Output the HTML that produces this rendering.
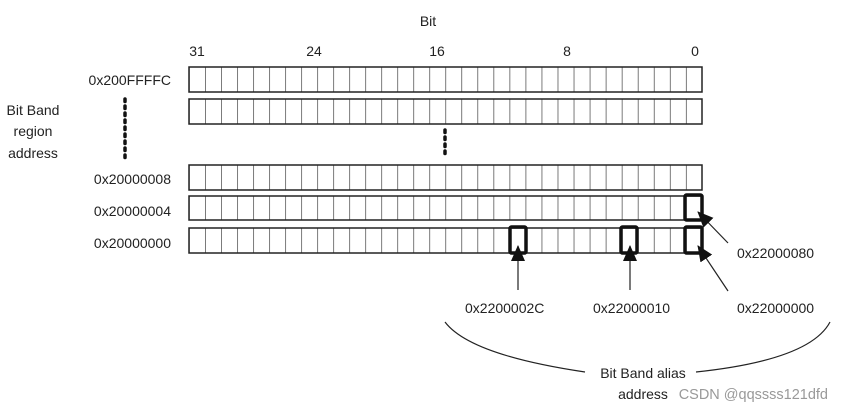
<!DOCTYPE html>
<html><head><meta charset="utf-8"><style>
html,body{margin:0;padding:0;background:#fff;}
svg{display:block;font-family:"Liberation Sans",sans-serif;}
text{font-size:14px;fill:#222;}
</style></head><body>
<svg width="841" height="410" viewBox="0 0 841 410">
<defs>
<pattern id="cells" x="189" y="0" width="16.03" height="410" patternUnits="userSpaceOnUse">
<line x1="0" y1="0" x2="0" y2="410" stroke="#222" stroke-width="1.2"/>
</pattern>
<marker id="ah" markerWidth="16" markerHeight="14" refX="15" refY="7" orient="auto" markerUnits="userSpaceOnUse" viewBox="0 0 16 14">
<path d="M0,0 L16,7 L0,14 z" fill="#111"/>
</marker>
</defs>
<text x="428" y="26" text-anchor="middle">Bit</text>
<text x="197" y="56" text-anchor="middle">31</text>
<text x="314" y="56" text-anchor="middle">24</text>
<text x="437" y="56" text-anchor="middle">16</text>
<text x="567" y="56" text-anchor="middle">8</text>
<text x="695" y="56" text-anchor="middle">0</text>
<g fill="url(#cells)" stroke="#222" stroke-width="1.5">
<rect x="189" y="67" width="513" height="25"/>
<rect x="189" y="99" width="513" height="25"/>
<rect x="189" y="165" width="513" height="25"/>
<rect x="189" y="196" width="513" height="24"/>
<rect x="189" y="228" width="513" height="25"/>
</g>
<g text-anchor="end">
<text x="171" y="85">0x200FFFFC</text>
<text x="171" y="184">0x20000008</text>
<text x="171" y="216">0x20000004</text>
<text x="171" y="248">0x20000000</text>
</g>
<g text-anchor="middle">
<text x="33" y="115">Bit Band</text>
<text x="33" y="136">region</text>
<text x="33" y="158">address</text>
</g>
<line x1="125" y1="99" x2="125" y2="158" stroke="#111" stroke-width="3.5" stroke-dasharray="2.5,4.5" stroke-linecap="round"/>
<line x1="445" y1="130" x2="445" y2="158" stroke="#111" stroke-width="3.5" stroke-dasharray="2.5,4.5" stroke-linecap="round"/>
<g fill="none" stroke="#111" stroke-width="3.5">
<rect x="685" y="195" width="17" height="25" rx="1.5"/>
<rect x="685" y="227" width="17" height="26" rx="1.5"/>
<rect x="510" y="227" width="16" height="26" rx="1.5"/>
<rect x="621" y="227" width="16" height="26" rx="1.5"/>
</g>
<g stroke="#222" stroke-width="1.2" marker-end="url(#ah)">
<line x1="518" y1="290" x2="518" y2="246"/>
<line x1="630" y1="290" x2="630" y2="246"/>
<line x1="728" y1="243" x2="698" y2="212"/>
<line x1="728" y1="291" x2="698" y2="246"/>
</g>
<text x="465" y="313">0x2200002C</text>
<text x="593" y="313">0x22000010</text>
<text x="737" y="313">0x22000000</text>
<text x="737" y="258">0x22000080</text>
<path d="M445,322 Q470,355 585,372" fill="none" stroke="#222" stroke-width="1.2"/>
<path d="M696,372 Q810,360 830,322" fill="none" stroke="#222" stroke-width="1.2"/>
<text x="643" y="378" text-anchor="middle">Bit Band alias</text>
<text x="643" y="399" text-anchor="middle">address</text>
<text x="828" y="399" text-anchor="end" style="fill:#999;font-size:14.5px">CSDN @qqssss121dfd</text>
</svg>
</body></html>
